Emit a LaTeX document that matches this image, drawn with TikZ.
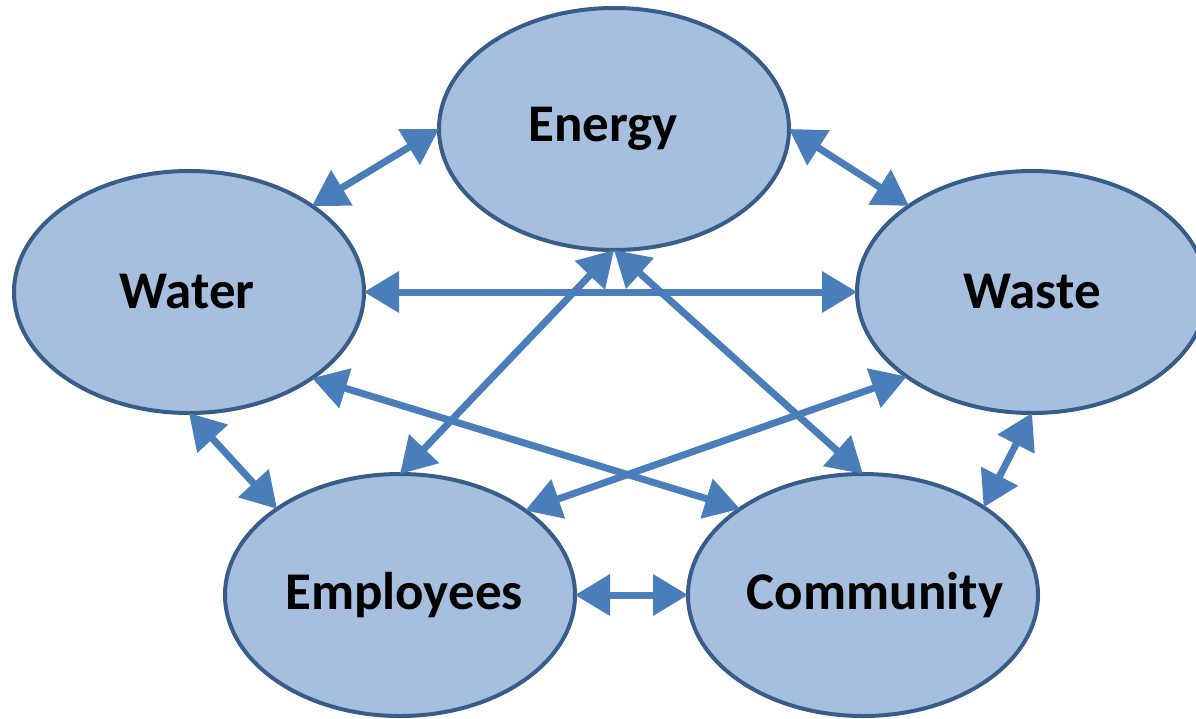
\documentclass[tikz,border=0pt]{standalone}
\usepackage{fontspec}
\setmainfont{Carlito}
\usetikzlibrary{arrows.meta,shapes.geometric}
\definecolor{hubfill}{HTML}{A7BFDE}
\definecolor{hubline}{HTML}{385D8A}
\definecolor{linkblue}{HTML}{4A7EBB}
\newcommand{\hubname}[2][0pt]{\makebox[0pt]{\hspace*{#1}#2}}

\begin{document}
\begin{tikzpicture}[x=1pt,y=-1pt,>={Triangle[length=35pt,width=40pt]},<->,line width=7pt,
    hub/.style={ellipse,draw=hubline,fill=hubfill,line width=4pt,minimum width=350pt,
        minimum height=242pt,inner sep=0pt,outer sep=0pt,font=\bfseries\fontsize{53}{60}\selectfont}]
            \useasboundingbox (0,0) rectangle (1196,718);
            \node[hub] (Energy)    at (614,129) {\hubname[-22pt]{Energy}};
            \node[hub] (Water)     at (189,292) {\hubname[-4pt]{Water}};
            \node[hub] (Waste)     at (1032,292) {\hubname{Waste}};
            \node[hub] (Employees) at (400,595) {\hubname[8pt]{Employees}};
            \node[hub] (Community) at (863,595) {\hubname[24pt]{Community}};
            \begin{scope}[color=linkblue]
                \draw (Energy.180) -- (Water.35);
                \draw (Energy.0) -- (Waste.145);
                \draw (Water.0) -- (Waste.180);
                \draw (Energy.270) -- (Employees.90);
                \draw (Energy.270) -- (Community.90);
                \draw (Water.-35) -- (Community.145);
                \draw (Waste.214) -- (Employees.34);
                \draw (Water.270) -- (Employees.145);
                \draw (Waste.270) -- (Community.36);
                \draw (Employees.0) -- (Community.180);
            \end{scope}
        \end{tikzpicture}
\end{document}
